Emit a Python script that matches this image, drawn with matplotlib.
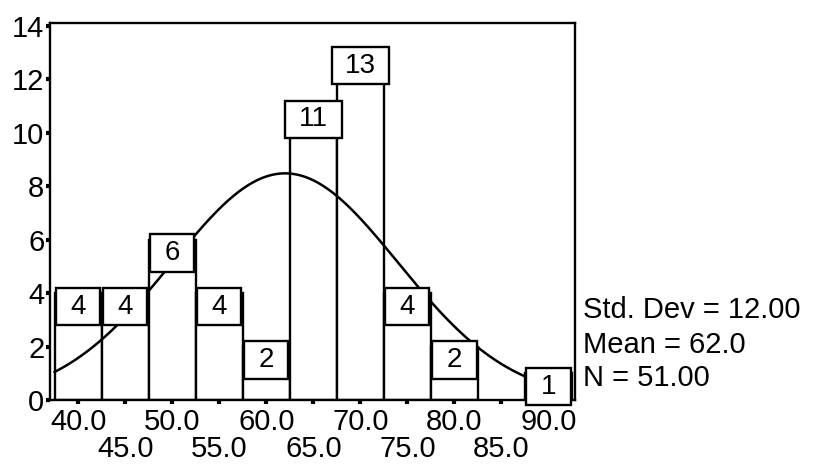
import numpy as np
import matplotlib.pyplot as plt
from matplotlib.patches import Rectangle

plt.rcParams['font.family'] = ['Liberation Sans', 'DejaVu Sans']

# histogram data (bin midpoints and counts)
mids = [40, 45, 50, 55, 60, 65, 70, 75, 80, 85, 90]
counts = [4, 4, 6, 4, 2, 11, 13, 4, 2, 0, 1]
row1_ticks = [40, 50, 60, 70, 80, 90]
row1_names = ["40.0", "50.0", "60.0", "70.0", "80.0", "90.0"]
row2_ticks = [45, 55, 65, 75, 85]
row2_names = ["45.0", "55.0", "65.0", "75.0", "85.0"]
y_ticks = [0, 2, 4, 6, 8, 10, 12, 14]

std_dev = 12.00
mean = 62.0
n = 51
bin_w = 5.0

fig = plt.figure(figsize=(8.15, 4.68), dpi=100)
ax = fig.add_axes([0.0613, 0.145, 0.644, 0.806])

# bars
for m, c in zip(mids, counts):
    if c > 0:
        ax.add_patch(Rectangle((m - bin_w / 2, 0), bin_w, c, facecolor="white",
                               edgecolor="black", linewidth=1.7, zorder=2))

# fitted normal curve
xs = np.linspace(37.5, 92.0, 300)
ys = n * bin_w / (std_dev * np.sqrt(2 * np.pi)) * np.exp(-0.5 * ((xs - mean) / std_dev) ** 2)
ax.plot(xs, ys, color="black", linewidth=1.8, zorder=3)

# count label boxes
for m, c in zip(mids, counts):
    if c == 0:
        continue
    w = 6.0 if c >= 10 else 4.7
    top = c + 0.2
    ax.add_patch(Rectangle((m - w / 2, top - 1.4), w, 1.4, facecolor="white",
                           edgecolor="black", linewidth=1.7, zorder=4, clip_on=False))
    ax.text(m, top - 0.7, str(c), ha="center", va="center", fontsize=20, zorder=5)

ax.set_xlim(37.0, 92.8)
ax.set_ylim(0, 14.1)
ax.set_xticks(row1_ticks)
ax.set_xticklabels(row1_names, fontsize=21)
ax.set_xticks(row2_ticks, minor=True)
ax.set_xticklabels(row2_names, minor=True, fontsize=21)
ax.set_yticks(y_ticks)
ax.set_yticklabels([str(v) for v in y_ticks], fontsize=21)
ax.tick_params(axis="both", which="both", length=3, width=3, pad=1)
ax.tick_params(axis="x", which="major", pad=3)
ax.tick_params(axis="x", which="minor", pad=22)
for s in ax.spines.values():
    s.set_linewidth(1.7)

fig.text(0.715, 0.338, "Std. Dev = 12.00", fontsize=21, va="center", ha="left")
fig.text(0.715, 0.263, "Mean = 62.0", fontsize=21, va="center", ha="left")
fig.text(0.715, 0.192, "N = 51.00", fontsize=21, va="center", ha="left")

fig.savefig("out.png", dpi=100)
